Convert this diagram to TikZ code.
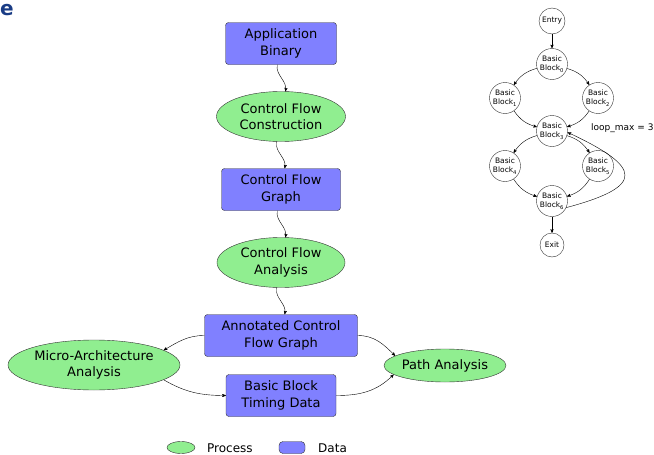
\documentclass[tikz,border=0pt]{standalone}
\usepackage{fontspec}
\setmainfont{DejaVu Sans}
\usetikzlibrary{shapes,arrows}
\definecolor{datablue}{RGB}{128,128,255}
\definecolor{procgreen}{RGB}{144,238,144}
\definecolor{panelblue}{RGB}{26,60,133}

\begin{document}
\begin{tikzpicture}[x=1pt,y=1pt,->,>=stealth',auto,node distance=73pt,
                    thin,
                    data/.style={rectangle,rounded corners=3pt,draw=black!80,fill=datablue,
                                 inner sep=0pt,align=center,minimum height=42pt,
                                 font=\fontsize{13}{16.5}\selectfont},
                    process/.style={ellipse,draw=black!80,fill=procgreen,
                                 inner sep=0pt,align=center,minimum height=50pt,
                                 font=\fontsize{13}{16.5}\selectfont},
                    block/.style={circle,draw=black!80,fill=white,inner sep=0pt,
                                 minimum size=31pt,align=center,
                                 font=\fontsize{7.5}{9.5}\selectfont},
                    legend/.style={inner sep=0pt,anchor=west,
                                 font=\fontsize{12}{14}\selectfont}]

  \useasboundingbox (0,0) rectangle (654,-455);
  \node[anchor=base west,inner sep=0pt,text=panelblue,
        font=\fontsize{20}{20}\selectfont\bfseries] (L) at (0,-16) {e};

  % tool flow
  \node[data,minimum width=111pt]    (A) at (281,-43.5) {Application\\Binary};
  \node[process,minimum width=129pt] (B) [below of=A] {Control Flow\\Construction};
  \node[data,minimum width=119pt]    (C) [below of=B] {Control Flow\\Graph};
  \node[process,minimum width=128pt] (D) [below of=C] {Control Flow\\Analysis};
  \node[data,minimum width=153pt]    (E) [below of=D] {Annotated Control\\Flow Graph};
  \node[process,minimum width=172pt] (F) at (94,-365) {Micro-Architecture\\Analysis};
  \node[data,minimum width=110pt]    (G) [below of=E,node distance=60pt] {Basic Block\\Timing Data};
  \node[process,minimum width=119pt,minimum height=33pt] (H) at (445,-365.5) {Path Analysis};

  \path (A) edge [out=-100,in=80] (B)
        (B) edge [out=-100,in=80] (C)
        (C) edge [out=-100,in=80] (D)
        (D) edge [out=-100,in=80] (E)
        (E.west) edge [out=180,in=30] (F.12)
        (F.-12)  edge [out=-30,in=180] (G.west)
        (E.east) edge [out=0,in=135] (H.169)
        (G.east) edge [out=0,in=-135] (H.190);

  % legend
  \node[process,minimum width=28pt,minimum height=12pt] (P) at (181,-447.5) {};
  \node[legend] (PL) at (207,-448) {Process};
  \node[data,minimum width=26pt,minimum height=12pt,rounded corners=4pt] (Q) at (292,-447.5) {};
  \node[legend] (QL) at (318,-448) {Data};

  % control flow graph
  \node[block,minimum size=26pt] (En) at (552,-21)  {Entry};
  \node[block]                   (B0) at (552,-64)  {Basic\\Block\textsubscript{0}};
  \node[block]                   (B1) at (505,-98)  {Basic\\Block\textsubscript{1}};
  \node[block]                   (B2) at (598,-98)  {Basic\\Block\textsubscript{2}};
  \node[block]                   (B3) at (552,-131) {Basic\\Block\textsubscript{3}};
  \node[block]                   (B4) at (505,-166) {Basic\\Block\textsubscript{4}};
  \node[block]                   (B5) at (598,-166) {Basic\\Block\textsubscript{5}};
  \node[block]                   (B6) at (552,-201) {Basic\\Block\textsubscript{6}};
  \node[block,minimum size=24pt] (Ex) at (552,-245) {Exit};
  \node[legend,font=\fontsize{9}{11}\selectfont] (LM) at (591,-128) {loop\_max = 3};

  \path (En) edge                 (B0)
        (B0) edge [bend right=20] (B1)
             edge [bend left=20]  (B2)
        (B1) edge [bend right=20] (B3)
        (B2) edge [bend left=20]  (B3)
        (B3) edge [bend right=20] (B4)
             edge [bend left=20]  (B5)
        (B4) edge [bend right=20] (B6)
        (B5) edge [bend left=20]  (B6)
        (B6) edge                 (Ex)
        (B6.-25) edge [out=15,in=-25,looseness=2.8] (B3.-5);
\end{tikzpicture}
\end{document}
